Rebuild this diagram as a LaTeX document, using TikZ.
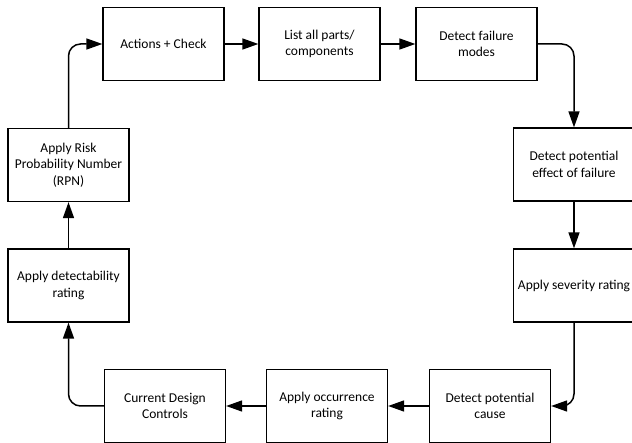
\documentclass[tikz,border=0pt]{standalone}
\usepackage{fontspec}
\setmainfont{Carlito}
\usepackage{tikz}
\usetikzlibrary{arrows.meta}

\begin{document}
\begin{tikzpicture}[x=1pt, y=-1pt,
    stepbox/.style={draw, line width=1.3pt, minimum width=121pt, minimum height=73pt,
        align=center, inner sep=2pt, font=\fontsize{13.5}{16.5}\selectfont},
    flow/.style={line width=1.5pt, rounded corners=12pt, -{Triangle[length=16pt, width=11pt]}}]
    \useasboundingbox (0,0) rectangle (632,443);

    % top row
    \node[stepbox] (act) at (163.5, 44) {Actions + Check};
    \node[stepbox] (parts) at (319.5, 44) {List all parts/\\components};
    \node[stepbox] (modes) at (476.5, 44) {Detect failure\\modes};

    % right column
    \node[stepbox] (effect) at (574, 164.5) {Detect potential\\effect of failure};
    \node[stepbox] (sev) at (574, 285.5) {Apply severity rating};

    % bottom row
    \node[stepbox] (cause) at (490, 406) {Detect potential\\cause};
    \node[stepbox] (occ) at (327, 406) {Apply occurrence\\rating};
    \node[stepbox] (ctrl) at (165, 406) {Current Design\\Controls};

    % left column
    \node[stepbox] (detect) at (68.5, 285.5) {Apply detectability\\rating};
    \node[stepbox] (rpn) at (68.5, 165) {Apply Risk\\Probability Number\\(RPN)};

    % the loop
    \draw[flow] (act) -- (parts);
    \draw[flow] (parts) -- (modes);
    \draw[flow] (modes.east) -| (effect.north);
    \draw[flow] (effect) -- (sev);
    \draw[flow] (sev.south) |- (cause.east);
    \draw[flow] (cause) -- (occ);
    \draw[flow] (occ) -- (ctrl);
    \draw[flow] (ctrl.west) -| (detect.south);
    \draw[flow] (detect) -- (rpn);
    \draw[flow] (rpn.north) |- (act.west);
\end{tikzpicture}
\end{document}
